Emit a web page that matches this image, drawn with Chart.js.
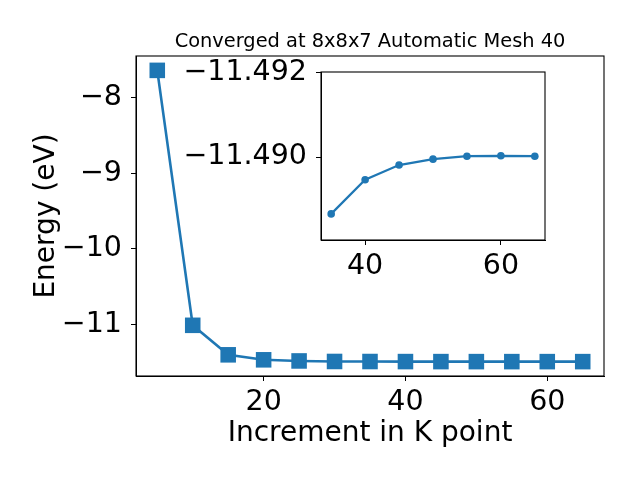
<!DOCTYPE html>
<html>
<head>
<meta charset="utf-8">
<script src="https://cdn.jsdelivr.net/npm/chart.js@4.4.1/dist/chart.umd.min.js"></script>
<style>
  html, body { margin: 0; padding: 0; background: #fff; }
  #wrap { position: relative; width: 640px; height: 480px; }
  #main { position: absolute; left: 0; top: 0; }
  #inset { position: absolute; left: 150px; top: 40px; }
</style>
</head>
<body>
<div id="wrap">
  <canvas id="main" width="640" height="480"></canvas>
  <canvas id="inset" width="430" height="250"></canvas>
</div>
<script>
var kpoints = [5, 10, 15, 20, 25, 30, 35, 40, 45, 50, 55, 60, 65];
var energy = [-7.64, -11.01, -11.40, -11.466, -11.481, -11.4880,
  -11.48865, -11.48946, -11.48981, -11.48995, -11.49002, -11.49003, -11.49002];

var insetFrom = 6;  // zoom on k = 35 .. 65
var insetK = kpoints.slice(insetFrom);
var insetE = energy.slice(insetFrom);

var mainXTicks = [20, 40, 60];
var mainYTicks = [-11, -10, -9, -8];
var insetXTicks = [40, 60];
var insetYTicks = [-11.492, -11.490];

var titleText = 'Converged at 8x8x7 Automatic Mesh 40';
var blue = '#1f77b4';
var FONT = 'DejaVu Sans';

function minus(v, digits) {
  var s = digits ? Math.abs(v).toFixed(digits) : String(Math.abs(v));
  return (v < 0 ? '\u2212' : '') + s;
}

function pairs(xs, ys) {
  return xs.map(function (x, i) { return {x: x, y: ys[i]}; });
}

// frame around plot area (matplotlib spines)
var frame = {
  id: 'frame',
  beforeDraw: function (chart, args, opts) {
    if (!opts.fill) return;
    var a = chart.chartArea, ctx = chart.ctx;
    ctx.save();
    ctx.fillStyle = opts.fill;
    ctx.fillRect(a.left, a.top, a.right - a.left, a.bottom - a.top);
    ctx.restore();
  },
  afterDraw: function (chart) {
    var a = chart.chartArea, ctx = chart.ctx;
    ctx.save();
    ctx.strokeStyle = '#000';
    ctx.lineWidth = 1.1;
    ctx.strokeRect(a.left, a.top, a.right - a.left, a.bottom - a.top);
    ctx.restore();
  }
};

var topTitle = {
  id: 'topTitle',
  afterDraw: function (chart) {
    var a = chart.chartArea, ctx = chart.ctx;
    ctx.save();
    ctx.fillStyle = '#000';
    ctx.font = '19.4px "' + FONT + '"';
    ctx.textAlign = 'center';
    ctx.textBaseline = 'middle';
    ctx.fillText(titleText, (a.left + a.right) / 2, 42);
    ctx.restore();
  }
};

function axis(opts) {
  var a = {
    type: 'linear',
    min: opts.min,
    max: opts.max,
    reverse: !!opts.reverse,
    grid: { drawOnChartArea: false, drawTicks: true, tickLength: 5, tickColor: '#000', tickWidth: 1 },
    border: { display: true, color: '#000', width: 1 },
    ticks: {
      color: '#000',
      padding: opts.pad,
      font: { family: FONT, size: 28.5 },
      callback: function (v) { return minus(v, opts.digits); }
    },
    afterBuildTicks: function (scale) {
      scale.ticks = opts.ticks.map(function (v) { return {value: v}; });
    },
    afterFit: function (scale) {
      if (opts.width !== undefined) scale.width = opts.width;
      if (opts.height !== undefined) scale.height = opts.height;
    }
  };
  if (opts.title) {
    a.title = {
      display: true, text: opts.title, color: '#000',
      font: { family: FONT, size: 28, lineHeight: 1.2 },
      padding: opts.titlePad
    };
  }
  return a;
}

new Chart(document.getElementById('main'), {
  type: 'line',
  data: {
    datasets: [{
      data: pairs(kpoints, energy),
      borderColor: blue,
      backgroundColor: blue,
      borderWidth: 2.6,
      pointStyle: 'rect',
      pointRadius: 11,
      pointBorderWidth: 0,
      pointBackgroundColor: blue,
      tension: 0
    }]
  },
  options: {
    responsive: false,
    animation: false,
    layout: { padding: { top: 56, right: 36, left: 0, bottom: 0 } },
    plugins: { legend: { display: false }, tooltip: { enabled: false }, frame: {} },
    scales: {
      x: axis({ min: 2, max: 68, ticks: mainXTicks, pad: 4, height: 104,
                title: 'Increment in K point', titlePad: { top: 0, bottom: 29 } }),
      y: axis({ min: -11.68, max: -7.45, ticks: mainYTicks, pad: 9, width: 136,
                title: 'Energy (eV)', titlePad: { top: 30, bottom: 0 } })
    }
  },
  plugins: [frame, topTitle]
});

new Chart(document.getElementById('inset'), {
  type: 'line',
  data: {
    datasets: [{
      data: pairs(insetK, insetE),
      borderColor: blue,
      backgroundColor: blue,
      borderWidth: 2.2,
      pointStyle: 'circle',
      pointRadius: 3.8,
      pointBorderWidth: 0,
      pointBackgroundColor: blue,
      tension: 0
    }]
  },
  options: {
    responsive: false,
    animation: false,
    layout: { padding: { top: 32, right: 35, left: 0, bottom: 0 } },
    plugins: { legend: { display: false }, tooltip: { enabled: false }, frame: { fill: '#fff' } },
    scales: {
      x: axis({ min: 33.5, max: 66.5, ticks: insetXTicks, pad: 4, height: 50 }),
      y: axis({ min: -11.49202, max: -11.48803, reverse: true, ticks: insetYTicks,
                pad: 9, width: 171, digits: 3 })
    }
  },
  plugins: [frame]
});
</script>
</body>
</html>
